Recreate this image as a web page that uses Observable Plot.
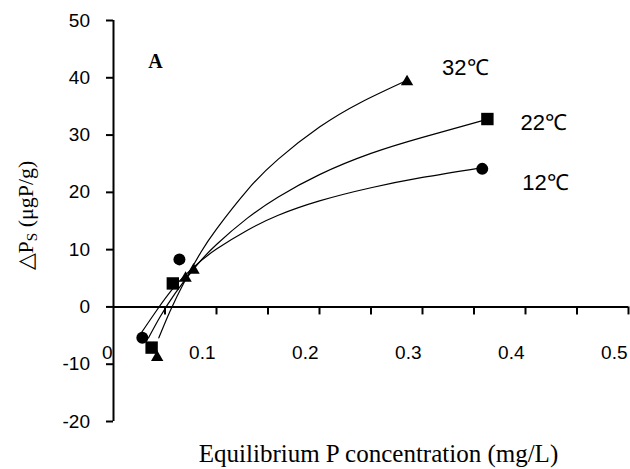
<!DOCTYPE html>
<html><head><meta charset="utf-8">
<script src="https://cdn.jsdelivr.net/npm/d3@7"></script>
<script src="https://cdn.jsdelivr.net/npm/@observablehq/plot@0.6"></script>
<style>body{margin:0;background:#fff} svg{display:block}</style>
</head><body><div id="chart"></div>
<script>
// Observed points
const obs12x = [0.028, 0.064, 0.358];
const obs12y = [-5.4, 8.3, 24.1];
const obs22x = [0.037, 0.0576, 0.363];
const obs22y = [-7.1, 4.1, 32.8];
const obs32x = [0.0424, 0.070, 0.0777, 0.285];
const obs32y = [-8.8, 5.0, 6.4, 39.3];

// Fitted curves
const fit12x = [0.026, 0.04, 0.06, 0.08, 0.1, 0.13, 0.16, 0.2, 0.25, 0.3, 0.354];
const fit12y = [-4.8, -1.1, 3.7, 7.3, 10.1, 13.4, 16.0, 18.5, 20.8, 22.6, 24.2];
const fit22x = [0.034, 0.045, 0.06, 0.08, 0.1, 0.13, 0.16, 0.2, 0.25, 0.3, 0.36];
const fit22y = [-5.4, -1.8, 2.4, 7.1, 10.9, 15.5, 19.2, 23.1, 26.8, 29.6, 32.6];
const fit32x = [0.044, 0.055, 0.07, 0.085, 0.1, 0.13, 0.16, 0.2, 0.24, 0.283];
const fit32y = [-5.4, -0.7, 4.8, 9.6, 13.6, 20.4, 25.8, 31.4, 35.7, 39.4];

const seriesNames = ["12℃", "22℃", "32℃"];

// Axes
const xTickValues = [0.05, 0.1, 0.15, 0.2, 0.25, 0.3, 0.35, 0.4, 0.45, 0.5];
const xLabelValues = [0, 0.1, 0.2, 0.3, 0.4, 0.5];
const xLabelTexts = ["0", "0.1", "0.2", "0.3", "0.4", "0.5"];
const yTickValues = [-20, -10, 0, 10, 20, 30, 40, 50];
const yLabelTexts = ["-20", "-10", "0", "10", "20", "30", "40", "50"];
const yTitle = "△PS (μgP/g)";

const zip = (xs, ys) => xs.map((x, i) => ({x, y: ys[i]}));
const o12 = zip(obs12x, obs12y), o22 = zip(obs22x, obs22y), o32 = zip(obs32x, obs32y);
const f12 = zip(fit12x, fit12y), f22 = zip(fit22x, fit22y), f32 = zip(fit32x, fit32y);

const sans = "Liberation Sans, Arial, sans-serif";
const serif = "Liberation Serif, Times New Roman, serif";

const chart = Plot.plot({
  width: 630, height: 469,
  marginLeft: 113, marginRight: 2, marginTop: 20, marginBottom: 48,
  style: {fontFamily: sans, background: "white", color: "black"},
  x: {domain: [0, 0.5], axis: null},
  y: {domain: [-20, 50], axis: null},
  marks: [
    Plot.ruleY([0], {x1: 0, x2: 0.5, strokeWidth: 2}),
    Plot.ruleX([0], {y1: -20, y2: 50, strokeWidth: 2}),
    Plot.ruleX(xTickValues, {x: d => d, y1: 0, y2: 0, insetBottom: -8, strokeWidth: 2}),
    Plot.ruleY(yTickValues, {y: d => d, x1: 0, x2: 0, insetLeft: -7, strokeWidth: 2}),
    Plot.text(xLabelValues, {x: d => d, y: 0, text: (d, i) => xLabelTexts[i], textAnchor: "end", dx: -1, dy: 46, fontSize: 19}),
    Plot.text(yTickValues, {x: 0, y: d => d, text: (d, i) => yLabelTexts[i], textAnchor: "end", dx: -23.5, fontSize: 19}),
    Plot.line(f12, {x: "x", y: "y", curve: "natural", stroke: "black", strokeWidth: 1.2}),
    Plot.line(f22, {x: "x", y: "y", curve: "natural", stroke: "black", strokeWidth: 1.2}),
    Plot.line(f32, {x: "x", y: "y", curve: "natural", stroke: "black", strokeWidth: 1.2}),
    Plot.dot(o12, {x: "x", y: "y", symbol: "circle", r: 6, fill: "black"}),
    Plot.dot(o22, {x: "x", y: "y", symbol: "square", r: 7, fill: "black"}),
    Plot.dot(o32, {x: "x", y: "y", symbol: "triangle", r: 4.6, fill: "black"}),
    Plot.text([o32[o32.length - 1]], {x: "x", y: "y", text: () => seriesNames[2], textAnchor: "start", dx: 35, dy: -13.5, fontSize: 22}),
    Plot.text([o22[o22.length - 1]], {x: "x", y: "y", text: () => seriesNames[1], textAnchor: "start", dx: 33, dy: 3.8, fontSize: 22}),
    Plot.text([o12[o12.length - 1]], {x: "x", y: "y", text: () => seriesNames[0], textAnchor: "start", dx: 40, dy: 14, fontSize: 22}),
    Plot.text(["A"], {frameAnchor: "top-left", text: d => d, dx: 42, dy: 41.5, textAnchor: "middle", lineAnchor: "middle", fontFamily: serif, fontWeight: "bold", fontSize: 20}),
    Plot.text(["Equilibrium P concentration (mg/L)"], {frameAnchor: "bottom", text: d => d, dx: 7.5, dy: 32.7, textAnchor: "middle", lineAnchor: "middle", fontFamily: serif, fontSize: 25}),
    Plot.text([yTitle], {frameAnchor: "left", text: d => d, dx: -88, dy: -5.5, rotate: -90, textAnchor: "middle", lineAnchor: "middle", fontFamily: serif, fontSize: 22})
  ]
});
document.getElementById("chart").appendChild(chart);

// Subscript S in the y-axis title
const ns = "http://www.w3.org/2000/svg";
for (const t of chart.querySelectorAll("text")) {
  if (t.textContent === yTitle) {
    while (t.firstChild) t.removeChild(t.firstChild);
    const parts = [["△P", {}], ["S", {"font-size": "15", "dy": "4"}], [" (μgP/g)", {"dy": "-4"}]];
    for (const [s, attrs] of parts) {
      const ts = document.createElementNS(ns, "tspan");
      ts.textContent = s;
      for (const k in attrs) ts.setAttribute(k, attrs[k]);
      t.appendChild(ts);
    }
  }
}
</script>
</body></html>
